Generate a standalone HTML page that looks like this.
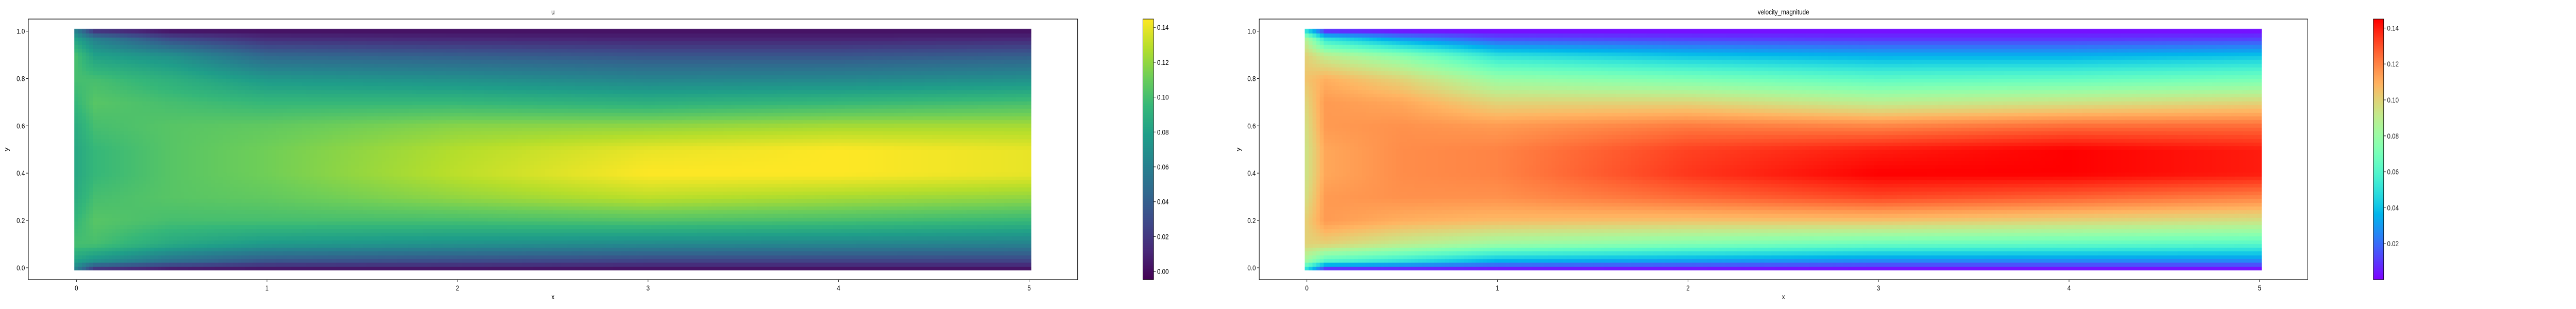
<!DOCTYPE html>
<html><head><meta charset="utf-8"><style>
html,body{margin:0;padding:0;background:#fff;width:100%;height:100%;overflow:hidden;}
#wrap{position:relative;width:100vw;height:100vh;overflow:hidden;font-family:"Liberation Sans",sans-serif;}
#cv,#sv{position:absolute;left:0;top:0;width:100%;height:100%;display:block;}
</style></head><body>
<div id="wrap">
<canvas id="cv" width="6000" height="600"></canvas>
<svg id="sv" viewBox="0 0 6000 600" preserveAspectRatio="none"></svg>
</div>
<script>
// ---- data ----
const xStations = [0, 0.1, 0.5, 1, 2, 3, 4, 5];
const yStations = [0, 0.03, 0.1, 0.2, 0.3, 0.4, 0.5, 0.6, 0.7, 0.8, 0.9, 0.97, 1.0];
// u values: one row per x station, listed from y=1 (top) down to y=0 (bottom)
const uX0   = [0.06,0.08,0.10,0.10,0.095,0.088,0.085,0.085,0.088,0.095,0.10,0.08,0.06];
const uX01  = [0.02,0.06,0.08,0.10,0.105,0.10,0.095,0.095,0.10,0.105,0.10,0.07,0.02];
const uX05  = [0.005,0.03,0.07,0.09,0.10,0.105,0.105,0.105,0.105,0.10,0.085,0.05,0.008];
const uX1   = [0.003,0.015,0.045,0.075,0.095,0.108,0.112,0.112,0.108,0.10,0.075,0.035,0.005];
const uX2   = [0.003,0.012,0.04,0.07,0.095,0.118,0.128,0.13,0.12,0.10,0.07,0.03,0.004];
const uX3   = [0.003,0.01,0.035,0.063,0.09,0.12,0.14,0.145,0.13,0.103,0.065,0.025,0.003];
const uX4   = [0.003,0.01,0.035,0.065,0.095,0.125,0.145,0.145,0.125,0.10,0.063,0.025,0.003];
const uX5   = [0.003,0.012,0.04,0.07,0.10,0.125,0.14,0.14,0.12,0.095,0.06,0.025,0.003];
const vmX0  = [0.05,0.085,0.10,0.105,0.10,0.097,0.095,0.095,0.097,0.102,0.10,0.08,0.05];
const vmX01 = [0.01,0.05,0.09,0.11,0.115,0.115,0.112,0.112,0.115,0.115,0.10,0.06,0.01];
const vmX05 = [0.005,0.03,0.075,0.10,0.112,0.117,0.118,0.118,0.117,0.11,0.09,0.05,0.008];
const vmX1  = [0.003,0.015,0.05,0.08,0.10,0.115,0.12,0.12,0.117,0.107,0.08,0.035,0.005];
const vmX2  = [0.003,0.012,0.04,0.072,0.10,0.122,0.133,0.135,0.125,0.105,0.072,0.03,0.004];
const vmX3  = [0.003,0.01,0.035,0.063,0.09,0.12,0.14,0.145,0.132,0.105,0.065,0.025,0.003];
const vmX4  = [0.003,0.01,0.035,0.065,0.095,0.125,0.145,0.145,0.127,0.10,0.063,0.025,0.003];
const vmX5  = [0.003,0.012,0.04,0.07,0.10,0.125,0.14,0.14,0.12,0.095,0.06,0.025,0.003];
const xTicks = [0,1,2,3,4,5];
const yTicks = [0,0.2,0.4,0.6,0.8,1.0];
const cbTicksU = [0,0.02,0.04,0.06,0.08,0.10,0.12,0.14];
const cbTicksV = [0.02,0.04,0.06,0.08,0.10,0.12,0.14];

const uRows=[uX0,uX01,uX05,uX1,uX2,uX3,uX4,uX5];
const vmRows=[vmX0,vmX01,vmX05,vmX1,vmX2,vmX3,vmX4,vmX5];

// ---- colormaps ----
const VIR=["#440154","#482878","#3e4989","#31688e","#26828e","#1f9e89","#35b779","#6ece58","#b5de2b","#fde725"];
function hex(h){return [parseInt(h.slice(1,3),16),parseInt(h.slice(3,5),16),parseInt(h.slice(5,7),16)];}
const VIRc=VIR.map(hex);
function viridis(t){t=Math.max(0,Math.min(1,t));const f=t*(VIRc.length-1);const i=Math.min(VIRc.length-2,Math.floor(f));const r=f-i;
 const a=VIRc[i],b=VIRc[i+1];return `rgb(${Math.round(a[0]+(b[0]-a[0])*r)},${Math.round(a[1]+(b[1]-a[1])*r)},${Math.round(a[2]+(b[2]-a[2])*r)})`;}
function rainbow(t){t=Math.max(0,Math.min(1,t));const c=v=>Math.round(255*Math.max(0,Math.min(1,v)));
 return `rgb(${c(Math.abs(2*t-0.5))},${c(Math.sin(Math.PI*t))},${c(Math.cos(Math.PI*t/2))})`;}

// ---- sampling ----
function interp1(arr,v){
 if(v<=arr[0])return [0,0];if(v>=arr[arr.length-1])return [arr.length-2,1];
 for(let i=0;i<arr.length-1;i++){if(v<=arr[i+1])return [i,(v-arr[i])/(arr[i+1]-arr[i])];}
 return [arr.length-2,1];}
function sample(rows,x,y){
 const [i,fx]=interp1(xStations,x);const [j,fy]=interp1(yStations,y);
 const n=yStations.length;const g=(r,k)=>rows[r][n-1-k];
 const a=g(i,j)*(1-fy)+g(i,j+1)*fy, b=g(i+1,j)*(1-fy)+g(i+1,j+1)*fy;return a*(1-fx)+b*fx;}

// ---- layout ----
const panels=[
 {name:"u",ax0:66,ax1:2510,x0px:178,rows:uRows,cmap:viridis,vmin:-0.0047,vmax:0.1448,cb0:2662,cb1:2687,cbt:cbTicksU,ylab:20},
 {name:"velocity_magnitude",ax0:2933,ax1:5375,x0px:3044,rows:vmRows,cmap:rainbow,vmin:0,vmax:0.145,cb0:5528,cb1:5552,cbt:cbTicksV,ylab:2889}
];
const axTop=37,axBot=543,kx=443.8;
const ypx=y=>520-459.5*y;
const cv=document.getElementById('cv'),ctx=cv.getContext('2d');
const sv=document.getElementById('sv');const NS="http://www.w3.org/2000/svg";
function el(tag,attrs,txt){const e=document.createElementNS(NS,tag);for(const k in attrs)e.setAttribute(k,attrs[k]);if(txt!==undefined)e.textContent=txt;sv.appendChild(e);return e;}

panels.forEach((p,pi)=>{
 const xpx=x=>p.x0px+kx*x;
 const NX=252,NY=64,dx=5/(NX-1),dy=1/(NY-1);
 for(let a=0;a<NX;a++){for(let b=0;b<NY;b++){
  const x=a*dx,y=b*dy;const v=sample(p.rows,x,y);
  ctx.fillStyle=p.cmap((v-p.vmin)/(p.vmax-p.vmin));
  const l=xpx(x-dx/2),r=xpx(x+dx/2),t=ypx(y+dy/2),bb=ypx(y-dy/2);
  ctx.fillRect(Math.floor(l),Math.floor(t),Math.ceil(r-l)+1,Math.ceil(bb-t)+1);
 }}
 for(let py=axTop;py<axBot;py++){const v=p.vmax-(py-axTop)/(axBot-axTop)*(p.vmax-p.vmin);ctx.fillStyle=p.cmap((v-p.vmin)/(p.vmax-p.vmin));ctx.fillRect(p.cb0,py,p.cb1-p.cb0,1);}
 const r=el('rect',{x:p.cb0,y:axTop,width:p.cb1-p.cb0,height:axBot-axTop,fill:'none',stroke:'#000','stroke-width':1});
 
 
 p.cbt.forEach(v=>{const yy=axBot-(v-p.vmin)/(p.vmax-p.vmin)*(axBot-axTop);
  el('line',{x1:p.cb1,x2:p.cb1+5,y1:yy,y2:yy,stroke:'#000'});
  const t=el('text',{x:p.cb1+8,y:yy+5,'font-size':14},v.toFixed(2));
  
  });
 const fr=el('rect',{x:p.ax0,y:axTop,width:p.ax1-p.ax0,height:axBot-axTop,fill:'none',stroke:'#000','stroke-width':1.2});
 
 
 xTicks.forEach(v=>{const xx=xpx(v);el('line',{x1:xx,x2:xx,y1:axBot,y2:axBot+5,stroke:'#000'});
  const t=el('text',{x:xx,y:axBot+21,'font-size':14,'text-anchor':'middle'},String(v));
  
  });
 yTicks.forEach(v=>{const yy=ypx(v);el('line',{x1:p.ax0-5,x2:p.ax0,y1:yy,y2:yy,stroke:'#000'});
  const t=el('text',{x:p.ax0-8,y:yy+5,'font-size':14,'text-anchor':'end'},v.toFixed(1));
  
  });
 const tt=el('text',{x:(p.ax0+p.ax1)/2,y:28,'font-size':14,'text-anchor':'middle'},p.name);
 
 
 const xl=el('text',{x:(p.ax0+p.ax1)/2,y:581,'font-size':14,'text-anchor':'middle'},'x');
 
 
 const yl=el('text',{x:p.ylab,y:290,'font-size':14,'text-anchor':'middle',transform:`rotate(-90 ${p.ylab} 290)`},'y');
 
 
});
</script>
</body></html>
